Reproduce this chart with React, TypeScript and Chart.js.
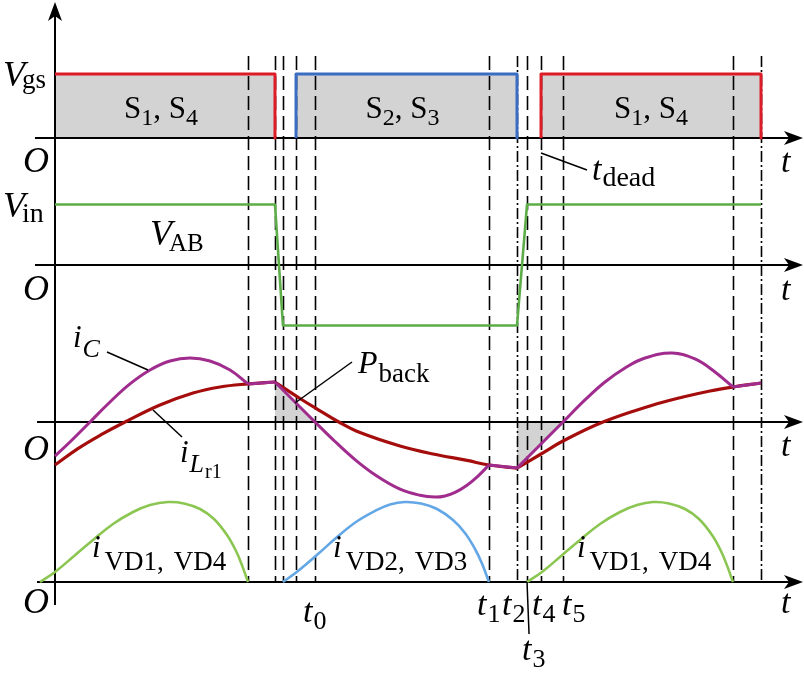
import React, { useEffect, useRef } from "react";
import { Chart, registerables } from "chart.js";

Chart.register(...registerables);

// ---------- DATA (time t in % of one switching period, origin O at t = 0) ----------
const DASH_TIMES = [27.34, 31.16, 32.29, 34.14, 36.83, 61.47, 65.44, 66.86, 68.84, 71.95, 96.03, 100];
const DASH_DOT_TIMES = [65.44, 100];

// gate drive pulses (normalised Vgs)
const VGS_S14_A = [[0, 1], [31.16, 1], [31.16, 0]];
const VGS_S23 = [[34.14, 0], [34.14, 1], [65.44, 1], [65.44, 0]];
const VGS_S14_B = [[68.84, 0], [68.84, 1], [100, 1], [100, 0]];

// bridge voltage V_AB (normalised to Vin)
const VAB = [[0, 1], [31.16, 1], [32.29, -1], [65.44, -1], [66.86, 1], [100, 1]];

// resonant capacitor current i_C
const IC = [
  [0, -2.13], [2.12, -1.25], [4.96, 0], [7.79, 1.25], [10.62, 2.38], [13.46, 3.25], [16.29, 3.81],
  [19.12, 4.0], [21.95, 3.81], [24.79, 3.25], [27.34, 2.38],
  [31.16, 2.5], [33.99, 1.25], [36.83, 0], [39.66, -1.22], [42.49, -2.35], [45.33, -3.3], [48.87, -4.2],
  [51.7, -4.58], [53.82, -4.69], [55.24, -4.62], [56.66, -4.4], [58.36, -3.95], [59.92, -3.38], [61.47, -2.69],
  [65.44, -2.88], [68.7, -1.44], [71.95, 0], [75.07, 1.38], [77.9, 2.5], [80.74, 3.38], [83.57, 4.0],
  [87.39, 4.31], [90.65, 3.94], [93.48, 3.13], [96.03, 2.19], [100, 2.44],
];
const IC_CORNERS = [27.34, 31.16, 61.47, 65.44, 96.03];

// resonant inductor current i_Lr1
const ILR = [
  [0, -2.69], [3.3, -1.65], [6.6, -0.78], [9.92, 0], [14.87, 1.06], [19.55, 1.81], [23.37, 2.19],
  [27.34, 2.38], [31.16, 2.5], [34.7, 1.47], [37.54, 0.7], [40.2, 0], [43.2, -0.66], [48.87, -1.5],
  [53.54, -2.0], [58.36, -2.4], [61.47, -2.69], [65.44, -2.88], [68.84, -2.0], [71.95, -1.19],
  [77.62, 0], [84.28, 1.0], [88.95, 1.56], [92.78, 1.94], [96.03, 2.19], [100, 2.44],
];
const ILR_CORNERS = [31.16, 65.44];

// rectifier diode currents
const IVD14_A = [
  [-2.12, 0], [0, 0.5], [2.83, 1.34], [5.38, 2.1], [8.22, 2.9], [11.05, 3.5], [13.46, 3.85], [16.0, 4.0],
  [18.27, 3.93], [20.54, 3.65], [22.52, 3.15], [24.36, 2.35], [25.64, 1.55], [26.49, 0.83], [27.34, 0],
];
const IVD23 = [
  [32.29, 0], [34.42, 0.55], [37.25, 1.4], [39.8, 2.2], [42.63, 3.0], [45.47, 3.58], [47.45, 3.88],
  [49.58, 4.0], [51.84, 3.92], [54.11, 3.65], [56.37, 3.1], [58.07, 2.45], [59.49, 1.65], [60.48, 0.92],
  [61.47, 0],
];
const IVD14_B = [
  [66.86, 0], [68.98, 0.5], [71.81, 1.34], [74.36, 2.1], [77.2, 2.9], [80.03, 3.5], [82.44, 3.85],
  [84.7, 4.0], [86.97, 3.93], [89.24, 3.65], [91.22, 3.15], [93.06, 2.35], [94.33, 1.55], [95.18, 0.83],
  [96.03, 0],
];

// back-flow (P_back) intervals shaded under i_C
const PBACK_RANGES = [[31.16, 36.83], [65.44, 71.95]];

// ---------- LAYOUT ----------
const W = 804;
const H = 675;
const ORIGIN_X = 55;
const PX_PER_T = 7.06;
const BANDS = {
  yG: { zero: 138, unit: 64 },
  yV: { zero: 265, unit: 60.5 },
  yI: { zero: 422, unit: 16 },
  yD: { zero: 582, unit: 20 },
};

const C = {
  red: "#dc1c26",
  blue: "#3a6cc2",
  vab: "#5cad48",
  purple: "#a02c8e",
  darkRed: "#a50d0d",
  lgreen: "#8cc652",
  lblue: "#63a7e6",
  gray: "#d3d3d3",
  black: "#000",
};

const FAM = '"Liberation Serif", "Times New Roman", serif';
const font = (size: number, italic?: boolean) => `${italic ? "italic " : ""}${size}px ${FAM}`;

type Part = { text: string; size: number; italic?: boolean; dy?: number; dx?: number };

function drawRich(ctx: CanvasRenderingContext2D, x: number, y: number, parts: Part[], align = "left") {
  let w = 0;
  for (const p of parts) {
    ctx.font = font(p.size, p.italic);
    w += ctx.measureText(p.text).width + (p.dx || 0);
  }
  let cx = align === "center" ? x - w / 2 : align === "right" ? x - w : x;
  ctx.textAlign = "left";
  ctx.textBaseline = "alphabetic";
  for (const p of parts) {
    cx += p.dx || 0;
    ctx.font = font(p.size, p.italic);
    ctx.fillText(p.text, cx, y + (p.dy || 0));
    cx += ctx.measureText(p.text).width;
  }
}

function toXY(arr: number[][]) {
  return arr.map(([x, y]) => ({ x, y }));
}

function splitAt(arr: number[][], corners: number[]) {
  const segs: number[][][] = [];
  let cur: number[][] = [];
  for (const p of arr) {
    cur.push(p);
    if (corners.includes(p[0])) {
      if (cur.length > 1) segs.push(cur);
      cur = [p];
    }
  }
  if (cur.length > 1) segs.push(cur);
  return segs;
}

function arrow(ctx: CanvasRenderingContext2D, x: number, y: number, dir: "right" | "up") {
  ctx.beginPath();
  if (dir === "right") {
    ctx.moveTo(x, y);
    ctx.lineTo(x - 19, y - 7);
    ctx.lineTo(x - 14, y);
    ctx.lineTo(x - 19, y + 7);
  } else {
    ctx.moveTo(x, y);
    ctx.lineTo(x - 7, y + 19);
    ctx.lineTo(x, y + 14);
    ctx.lineTo(x + 7, y + 19);
  }
  ctx.closePath();
  ctx.fill();
}

const backgroundPlugin = {
  id: "timingBackground",
  beforeDatasetsDraw(chart: any) {
    const ctx: CanvasRenderingContext2D = chart.ctx;
    const xs = chart.scales.x;
    const yBottom = chart.scales.yD.getPixelForValue(0);
    ctx.save();
    ctx.strokeStyle = C.black;
    ctx.lineWidth = 1.6;
    for (const t of DASH_TIMES) {
      const px = Math.round(xs.getPixelForValue(t)) + 0.5;
      ctx.setLineDash(DASH_DOT_TIMES.includes(t) ? [11, 3, 2, 3] : [14, 6]);
      ctx.beginPath();
      ctx.moveTo(px, 56);
      ctx.lineTo(px, yBottom);
      ctx.stroke();
    }
    ctx.setLineDash([]);
    // axes
    ctx.lineWidth = 2;
    ctx.fillStyle = C.black;
    const ax = xs.getPixelForValue(0);
    ctx.beginPath();
    ctx.moveTo(ax, yBottom + 23);
    ctx.lineTo(ax, 12);
    ctx.stroke();
    arrow(ctx, ax, 2, "up");
    const starts: Record<string, number> = { yG: 35, yV: 35, yI: 37, yD: 37 };
    for (const id of ["yG", "yV", "yI", "yD"]) {
      const py = chart.scales[id].getPixelForValue(0);
      ctx.beginPath();
      ctx.moveTo(starts[id], py);
      ctx.lineTo(W - 10, py);
      ctx.stroke();
      arrow(ctx, W - 1, py, "right");
    }
    ctx.restore();
  },
  afterDatasetsDraw(chart: any) {
    const ctx: CanvasRenderingContext2D = chart.ctx;
    const xs = chart.scales.x;
    const xp = (t: number) => xs.getPixelForValue(t);
    ctx.save();
    ctx.fillStyle = C.black;
    ctx.strokeStyle = C.black;

    // O and t axis labels
    const baselines = [172, 300, 460, 613];
    for (const b of baselines) {
      drawRich(ctx, 49, b, [{ text: "O", size: 36, italic: true }], "right");
      drawRich(ctx, 781, b - (b === 460 ? 4 : 0), [{ text: "t", size: 34, italic: true }]);
    }

    // y labels
    drawRich(ctx, 3, 86, [
      { text: "V", size: 36, italic: true },
      { text: "gs", size: 27, dy: 2, dx: -3 },
    ]);
    drawRich(ctx, 3, 217, [
      { text: "V", size: 36, italic: true },
      { text: "in", size: 28, dy: 5, dx: -3 },
    ]);
    drawRich(ctx, 150, 245, [
      { text: "V", size: 36, italic: true },
      { text: "AB", size: 25, dy: 6, dx: -3 },
    ]);

    // switch labels centred on the gate pulses
    const sLabel = (a: string, b: string): Part[] => [
      { text: "S", size: 31 },
      { text: a, size: 24, dy: 7 },
      { text: ", ", size: 31 },
      { text: "S", size: 31 },
      { text: b, size: 24, dy: 7 },
    ];
    drawRich(ctx, (xp(0) + xp(31.16)) / 2 - 4, 118, sLabel("1", "4"), "center");
    drawRich(ctx, (xp(34.14) + xp(65.44)) / 2 - 4, 118, sLabel("2", "3"), "center");
    drawRich(ctx, (xp(68.84) + xp(100)) / 2, 118, sLabel("1", "4"), "center");

    // t_dead
    ctx.lineWidth = 1.5;
    ctx.beginPath();
    ctx.moveTo(xp(68.84), 153);
    ctx.lineTo(587, 170);
    ctx.stroke();
    drawRich(ctx, 592, 180, [
      { text: "t", size: 34, italic: true },
      { text: "dead", size: 28, dy: 6, dx: 1 },
    ]);

    // t0..t5
    const tLab = (n: string): Part[] => [
      { text: "t", size: 34, italic: true },
      { text: n, size: 26, dy: 7, dx: 1 },
    ];
    drawRich(ctx, xp(36.83) - 12, 622, tLab("0"));
    drawRich(ctx, xp(61.47) - 12, 615, tLab("1"));
    drawRich(ctx, xp(65.44) - 15, 615, tLab("2"));
    drawRich(ctx, xp(68.84) - 9, 615, tLab("4"));
    drawRich(ctx, xp(71.95) - 1, 615, tLab("5"));
    drawRich(ctx, xp(66.86) - 5, 660, tLab("3"));
    const yB = chart.scales.yD.getPixelForValue(0);
    ctx.beginPath();
    ctx.moveTo(xp(66.86), yB);
    ctx.lineTo(xp(66.86) + 2, 634);
    ctx.stroke();

    // i_C
    drawRich(ctx, 73, 347, [
      { text: "i", size: 31, italic: true },
      { text: "C", size: 26, italic: true, dy: 10, dx: 1 },
    ]);
    ctx.beginPath();
    ctx.moveTo(107, 352);
    ctx.lineTo(148, 370);
    ctx.stroke();

    // i_Lr1
    drawRich(ctx, 180, 462, [
      { text: "i", size: 31, italic: true },
      { text: "L", size: 26, italic: true, dy: 10, dx: 1 },
      { text: "r1", size: 20, dy: 16, dx: 1 },
    ]);
    ctx.beginPath();
    ctx.moveTo(153, 410);
    ctx.lineTo(182, 437);
    ctx.stroke();

    // P_back
    drawRich(ctx, 358, 373, [
      { text: "P", size: 32, italic: true },
      { text: "back", size: 27, dy: 9, dx: 1 },
    ]);
    ctx.beginPath();
    ctx.moveTo(295, 403);
    ctx.lineTo(352, 362);
    ctx.stroke();

    // diode current labels
    const vdLab = (a: string, b: string): Part[] => [
      { text: "i", size: 31, italic: true },
      { text: a + ",", size: 27, dy: 13, dx: 4 },
      { text: b, size: 27, dy: 13, dx: 10 },
    ];
    drawRich(ctx, 92, 557, vdLab("VD1", "VD4"));
    drawRich(ctx, 333, 557, vdLab("VD2", "VD3"));
    drawRich(ctx, 577, 557, vdLab("VD1", "VD4"));
    ctx.restore();
  },
};

export default function App() {
  const ref = useRef<HTMLCanvasElement>(null);

  useEffect(() => {
    const canvas = ref.current;
    if (!canvas) return;

    const line = (data: number[][], color: string, axis: string, width: number, smooth: boolean) => ({
      data: toXY(data),
      borderColor: color,
      borderWidth: width,
      pointRadius: 0,
      fill: false,
      tension: smooth ? 0.4 : 0,
      borderJoinStyle: "round",
      borderCapStyle: "butt",
      yAxisID: axis,
    });
    const area = (data: number[][], axis: string, smooth: boolean) => ({
      data: toXY(data),
      borderWidth: 0,
      borderColor: "rgba(0,0,0,0)",
      backgroundColor: C.gray,
      pointRadius: 0,
      fill: "origin",
      tension: smooth ? 0.4 : 0,
      yAxisID: axis,
    });

    const datasets: any[] = [];
    // lines (first = drawn on top)
    for (const s of splitAt(IC, IC_CORNERS)) datasets.push(line(s, C.purple, "yI", 3, true));
    for (const s of splitAt(ILR, ILR_CORNERS)) datasets.push(line(s, C.darkRed, "yI", 3.2, true));
    datasets.push(line(IVD14_A, C.lgreen, "yD", 2.6, true));
    datasets.push(line(IVD23, C.lblue, "yD", 2.6, true));
    datasets.push(line(IVD14_B, C.lgreen, "yD", 2.6, true));
    datasets.push(line(VAB, C.vab, "yV", 2.6, false));
    datasets.push(line(VGS_S14_A, C.red, "yG", 3, false));
    datasets.push(line(VGS_S23, C.blue, "yG", 3, false));
    datasets.push(line(VGS_S14_B, C.red, "yG", 3, false));
    // fills
    datasets.push(area(VGS_S14_A, "yG", false));
    datasets.push(area(VGS_S23, "yG", false));
    datasets.push(area(VGS_S14_B, "yG", false));
    for (const [a, b] of PBACK_RANGES) {
      const pts = IC.filter(([t]) => t >= a && t <= b);
      datasets.push(area(pts, "yI", true));
    }

    const yScale = (id: keyof typeof BANDS) => {
      const { zero, unit } = BANDS[id];
      const max = zero / unit;
      return { type: "linear", display: false, min: max - H / unit, max, axis: "y" };
    };

    const chart = new Chart(canvas, {
      type: "line",
      data: { datasets },
      options: {
        responsive: false,
        animation: false,
        devicePixelRatio: 1,
        layout: { padding: 0 },
        events: [],
        scales: {
          x: { type: "linear", display: false, min: -ORIGIN_X / PX_PER_T, max: (W - ORIGIN_X) / PX_PER_T },
          yG: yScale("yG"),
          yV: yScale("yV"),
          yI: yScale("yI"),
          yD: yScale("yD"),
        } as any,
        plugins: {
          legend: { display: false },
          title: { display: false },
          tooltip: { enabled: false },
          filler: { drawTime: "beforeDatasetsDraw" },
        } as any,
      } as any,
      plugins: [backgroundPlugin],
    });
    return () => chart.destroy();
  }, []);

  return (
    <div style={{ position: "absolute", left: 0, top: 0, width: W, height: H, background: "#fff" }}>
      <canvas ref={ref} width={W} height={H} style={{ display: "block" }} />
    </div>
  );
}
